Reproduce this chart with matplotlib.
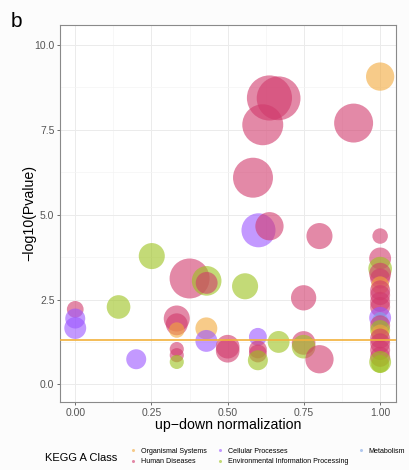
import numpy as np
import matplotlib
matplotlib.use('Agg')
import matplotlib.pyplot as plt
from matplotlib.lines import Line2D

plt.rcParams['font.family'] = ['Liberation Sans', 'DejaVu Sans']

# KEGG enrichment: up-down normalization vs -log10(P), bubble = gene count
classes = ['Organismal Systems', 'Human Diseases', 'Cellular Processes',
           'Environmental Information Processing', 'Metabolism']
class_colors = {'Organismal Systems': '#F2A93B',
                'Human Diseases': '#D13A6C',
                'Cellular Processes': '#9B55FF',
                'Environmental Information Processing': '#9CC21C',
                'Metabolism': '#7FA6E6'}

updown = [1.00, 0.637, 0.667, 0.615, 0.913, 0.583, 0.601, 0.637, 0.801, 1.00,
          0.251, 0.375, 0.431, 0.431, 0.557, 0.749, 0.142, 0.00, 0.00, 0.00,
          0.20, 0.333, 0.333, 0.333, 0.333, 0.333, 0.333, 0.43, 0.43, 0.50,
          0.50, 0.599, 0.599, 0.599, 0.599, 0.667, 0.749, 0.749, 0.801,
          1.00, 1.00, 1.00, 1.00, 1.00, 1.00, 1.00, 1.00, 1.00, 1.00,
          1.00, 1.00, 1.00, 1.00, 1.00, 1.00, 1.00, 1.00, 1.00, 1.00]
logp = [9.07, 8.44, 8.43, 7.65, 7.70, 6.09, 4.54, 4.66, 4.37, 4.37,
        3.78, 3.12, 3.05, 2.99, 2.89, 2.55, 2.28, 2.21, 1.94, 1.66,
        0.74, 1.94, 1.77, 1.60, 1.04, 0.86, 0.66, 1.65, 1.28, 1.11,
        0.99, 1.40, 1.03, 0.91, 0.71, 1.25, 1.22, 1.11, 0.74,
        3.71, 3.41, 3.26, 3.12, 2.92, 2.77, 2.63, 2.43, 2.28, 1.96,
        1.90, 1.74, 1.60, 1.50, 1.35, 1.21, 1.01, 0.81, 0.66, 0.60]
gene_count = [20, 51, 48, 42, 38, 40, 29, 20, 17, 6,
              17, 40, 22, 12, 17, 16, 14, 7, 10, 12,
              10, 17, 12, 6, 5, 5, 5, 12, 12, 14,
              14, 8, 8, 8, 10, 12, 14, 14, 20,
              12, 14, 12, 10, 8, 10, 10, 10, 10, 12,
              6, 10, 10, 8, 10, 10, 10, 10, 12, 8]
kegg_class = ['Organismal Systems', 'Human Diseases', 'Human Diseases', 'Human Diseases',
              'Human Diseases', 'Human Diseases', 'Cellular Processes', 'Human Diseases',
              'Human Diseases', 'Human Diseases',
              'Environmental Information Processing', 'Human Diseases',
              'Environmental Information Processing', 'Human Diseases',
              'Environmental Information Processing', 'Human Diseases',
              'Environmental Information Processing', 'Human Diseases',
              'Cellular Processes', 'Cellular Processes',
              'Cellular Processes', 'Human Diseases', 'Human Diseases', 'Organismal Systems',
              'Human Diseases', 'Human Diseases', 'Environmental Information Processing',
              'Organismal Systems', 'Cellular Processes', 'Human Diseases',
              'Human Diseases', 'Cellular Processes', 'Human Diseases', 'Human Diseases',
              'Environmental Information Processing', 'Environmental Information Processing',
              'Human Diseases', 'Environmental Information Processing', 'Human Diseases',
              'Human Diseases', 'Environmental Information Processing', 'Human Diseases',
              'Human Diseases', 'Organismal Systems', 'Human Diseases', 'Human Diseases',
              'Human Diseases', 'Human Diseases', 'Cellular Processes',
              'Metabolism', 'Human Diseases', 'Environmental Information Processing',
              'Organismal Systems', 'Human Diseases', 'Human Diseases', 'Human Diseases',
              'Human Diseases', 'Environmental Information Processing',
              'Environmental Information Processing']

fig = plt.figure(figsize=(4.09, 4.70), dpi=100, facecolor='#FCFCFC')
ax = fig.add_axes([0.1467, 0.1447, 0.8215, 0.8021])
ax.set_facecolor('white')

cols = [class_colors[c] for c in kegg_class]
ax.scatter(updown, logp, s=np.array(gene_count) * 20.7, c=cols, alpha=0.6,
           linewidths=0, zorder=3)

# significance threshold p = 0.05
ax.axhline(-np.log10(0.05), color='#F2B23C', lw=1.2, zorder=4)

ax.set_xlim(-0.05, 1.052)
ax.set_ylim(-0.52, 10.59)
ax.set_xticks([0, 0.25, 0.5, 0.75, 1.0])
ax.set_xticklabels(['0.00', '0.25', '0.50', '0.75', '1.00'])
ax.set_yticks([0, 2.5, 5, 7.5, 10])
ax.set_yticklabels(['0.0', '2.5', '5.0', '7.5', '10.0'])
ax.set_xticks([0.125, 0.375, 0.625, 0.875], minor=True)
ax.set_yticks([1.25, 3.75, 6.25, 8.75], minor=True)
ax.grid(which='major', color='#EBEBEB', lw=0.7, zorder=0)
ax.grid(which='minor', color='#F4F4F4', lw=0.5, zorder=0)
ax.tick_params(which='major', length=2.5, width=0.6, color='#555555',
               labelsize=7.5, labelcolor='#555555', pad=1.5)
ax.tick_params(which='minor', length=0)
for sp in ax.spines.values():
    sp.set_color('#8A8A8A')
    sp.set_linewidth(0.8)

ax.set_xlabel('up\u2212down normalization', fontsize=10.2)
ax.set_ylabel('\u2212log10(Pvalue)', fontsize=10.2)
ax.xaxis.set_label_coords(0.5, -0.043)
ax.yaxis.set_label_coords(-0.071, 0.5)

fig.text(0.025, 0.975, 'b', fontsize=15, va='top', ha='left')

handles = [Line2D([], [], marker='o', ls='', ms=2.2, color=class_colors[c],
                  alpha=0.6, mec='none') for c in classes]
fig.text(0.11, 0.026, 'KEGG A Class', fontsize=8, va='center', ha='left')
fig.legend(handles, classes, ncol=3, frameon=False, fontsize=5.1,
           loc='center left', bbox_to_anchor=(0.302, 0.029),
           columnspacing=1.3, handletextpad=0.6, labelspacing=0.5,
           handlelength=1.0)

fig.savefig('out.png', dpi=100, facecolor=fig.get_facecolor())
